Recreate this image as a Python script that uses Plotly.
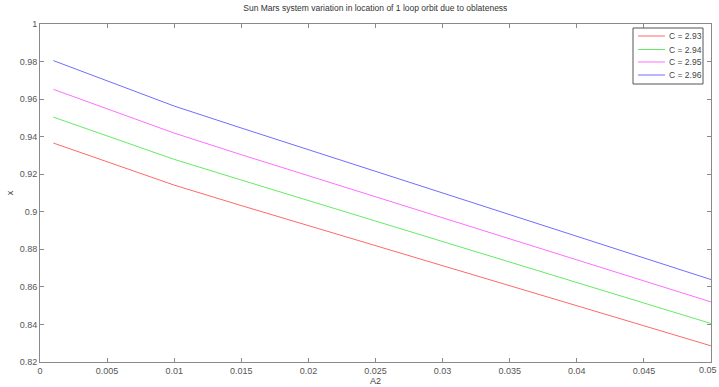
import plotly.graph_objects as go

a2 = [0.001, 0.005, 0.01, 0.015, 0.02, 0.025, 0.03, 0.035, 0.04, 0.045, 0.05]
x_c293 = [0.9366, 0.9266, 0.9142, 0.9033, 0.8927, 0.8820, 0.8713, 0.8607, 0.8500, 0.8393, 0.8286]
x_c294 = [0.9504, 0.9404, 0.9279, 0.9169, 0.9060, 0.8951, 0.8842, 0.8732, 0.8623, 0.8514, 0.8405]
x_c295 = [0.9652, 0.9548, 0.9419, 0.9304, 0.9192, 0.9080, 0.8968, 0.8856, 0.8744, 0.8632, 0.8520]
x_c296 = [0.9805, 0.9697, 0.9563, 0.9446, 0.9331, 0.9215, 0.9100, 0.8985, 0.8869, 0.8754, 0.8639]
series_names = ["C = 2.93", "C = 2.94", "C = 2.95", "C = 2.96"]
series_colors = ["rgb(255,105,105)", "rgb(100,235,100)", "rgb(255,110,255)", "rgb(110,110,255)"]

xtick_vals = [0, 0.005, 0.01, 0.015, 0.02, 0.025, 0.03, 0.035, 0.04, 0.045, 0.05]
xtick_text = ["0", "0.005", "0.01", "0.015", "0.02", "0.025", "0.03", "0.035", "0.04", "0.045", "0.05"]
ytick_vals = [0.82, 0.84, 0.86, 0.88, 0.9, 0.92, 0.94, 0.96, 0.98, 1.0]
ytick_text = ["0.82", "0.84", "0.86", "0.88", "0.9", "0.92", "0.94", "0.96", "0.98", "1"]
x_range = [0, 0.05]

W, H = 719, 387
L, R, T, B = 40, 8, 24, 25
PW, PH = W - L - R, H - T - B


def px_x(p):
    return (p - L) / PW


def px_y(p):
    return (H - B - p) / PH


fig = go.Figure()
for name, ys, col in zip(series_names, [x_c293, x_c294, x_c295, x_c296], series_colors):
    fig.add_trace(go.Scatter(x=a2, y=ys, mode="lines", name=name,
                             line=dict(color=col, width=1), showlegend=False))

# custom legend box (MATLAB style)
shapes = [dict(type="rect", xref="paper", yref="paper",
               x0=px_x(633), x1=px_x(703), y0=px_y(84), y1=px_y(28),
               line=dict(color="#555555", width=1), fillcolor="white", layer="above")]
annotations = []
row_y = [36, 49.5, 62, 75]
for name, col, ry in zip(series_names, series_colors, row_y):
    shapes.append(dict(type="line", xref="paper", yref="paper",
                       x0=px_x(638), x1=px_x(665), y0=px_y(ry), y1=px_y(ry),
                       line=dict(color=col, width=1), layer="above"))
    annotations.append(dict(xref="paper", yref="paper", x=px_x(666.5), y=px_y(ry),
                            text=name, showarrow=False, xanchor="left", yanchor="middle",
                            font=dict(size=8.5, color="#444444")))

# last x tick label, kept inside the page
annotations.append(dict(xref="paper", yref="paper", x=px_x(719), y=0,
                        text=xtick_text[-1], showarrow=False, xanchor="right",
                        yanchor="top", yshift=-1, font=dict(size=9, color="#555555")))
xtick_text_axis = xtick_text[:-1] + [""]

axis_common = dict(showline=True, linecolor="#8a8a8a", linewidth=1, mirror="ticks",
                   ticks="inside", ticklen=4, tickcolor="#8a8a8a", showgrid=False,
                   zeroline=False, automargin=False,
                   tickfont=dict(size=9, color="#555555"))

fig.update_layout(
    width=W, height=H,
    margin=dict(l=L, r=R, t=T, b=B),
    paper_bgcolor="white", plot_bgcolor="white",
    font=dict(family="Liberation Sans, Arial, sans-serif", size=9, color="#444444"),
    title=dict(text="Sun Mars system variation in location of 1 loop orbit due to oblateness",
               x=0.522, xanchor="center", y=0.978, yanchor="middle",
               font=dict(size=8.5, color="#333333")),
    xaxis=dict(range=x_range, tickvals=xtick_vals, ticktext=xtick_text_axis,
               title=dict(text="A2", standoff=0, font=dict(size=9, color="#444444")),
               **axis_common),
    yaxis=dict(range=[0.82, 1.0], tickvals=ytick_vals, ticktext=ytick_text,
               title=dict(text="x", standoff=4, font=dict(size=9, color="#444444")),
               **axis_common),
    shapes=shapes,
    annotations=annotations,
    showlegend=False,
)

fig.write_html("out.html")
